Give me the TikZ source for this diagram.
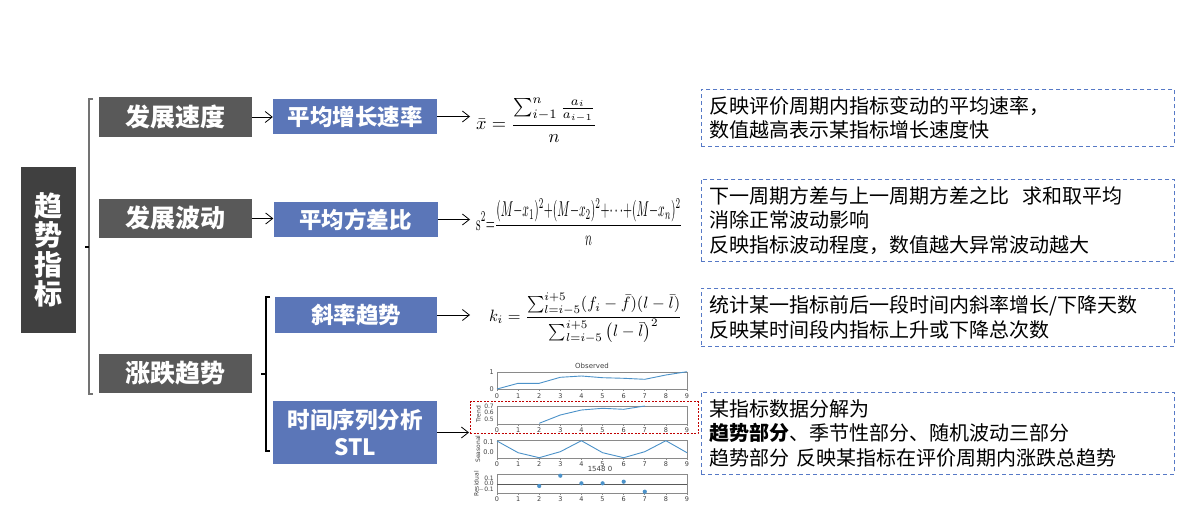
\documentclass[tikz,border=0pt]{standalone}
\usepackage{fontspec}
\usepackage{graphicx}
\usetikzlibrary{arrows.meta}
\newfontfamily\cjk{Noto Sans CJK SC}
\newfontfamily\dvs{DejaVu Sans}
\definecolor{darkbox}{HTML}{404040}
\definecolor{graybox}{HTML}{595959}
\definecolor{bluebox}{HTML}{5B76B8}
\definecolor{dashblue}{HTML}{5679C6}
\definecolor{redd}{HTML}{C00000}
\definecolor{plotline}{HTML}{4C92C9}
\definecolor{axisgray}{HTML}{8A8A8A}
\tikzset{
  darkbx/.style={fill=darkbox, text=white, inner sep=0pt, align=center,
    font=\cjk\bfseries\fontsize{28}{29.5}\selectfont},
  graybx/.style={fill=graybox, text=white, inner sep=0pt, minimum width=153, minimum height=39.5,
    font=\cjk\bfseries\fontsize{25}{30}\selectfont},
  bluebx/.style={fill=bluebox, text=white, inner sep=0pt, minimum width=164, minimum height=35,
    align=center, font=\cjk\bfseries\fontsize{22.5}{27}\selectfont},
  descbx/.style={draw=dashblue, dash pattern=on 4pt off 3pt, line width=0.9pt, text width=457pt,
    inner xsep=8pt, inner ysep=0pt, align=left, anchor=north west,
    font=\cjk\fontsize{20}{24.5}\selectfont},
  arr/.style={-{Straight Barb[length=7pt,width=11pt]}, line width=0.8pt},
  brk/.style={line width=1.1pt},
  axisln/.style={draw=axisgray, line width=0.6pt},
  pl/.style={draw=plotline, line width=0.9pt},
  tick/.style={inner sep=0pt, text=black!75, font=\dvs\fontsize{6.5}{7}\selectfont},
  ytick/.style={tick, anchor=east},
  ylab/.style={inner sep=0pt, rotate=90, text=black!75, font=\dvs\fontsize{6}{7}\selectfont},
  frm/.style={anchor=west, inner sep=0pt}
}
\begin{document}
\begin{tikzpicture}[x=1pt,y=-1pt]
\useasboundingbox[fill=white] (0,0) rectangle (1195,524);

% main boxes
\node[darkbx, minimum width=55, minimum height=166] (qs) at (48.5,250) {趋\\势\\指\\标};
\node[graybx] (fz) at (175.5,117) {发展速度};
\node[graybx] (fb) at (175.5,218.5) {发展波动};
\node[graybx] (zd) at (175.5,373.5) {涨跌趋势};

\node[bluebx] (pj) at (355,116.5) {平均增长速率};
\node[bluebx] (pf) at (355.5,219.5) {平均方差比};
\node[bluebx, minimum height=36, minimum width=162] (xl) at (356,315) {斜率趋势};
\node[bluebx, minimum height=63] (stl) at (355,432.5) {时间序列分析\\STL};

% brackets
\coordinate (b1a) at (93,99);  \coordinate (b1b) at (89,99);
\coordinate (b1c) at (89,394); \coordinate (b1d) at (93,394);
\coordinate (b1m) at (89,247); \coordinate (b1n) at (85,247);
\draw[brk, draw=black!55] (b1a) -- (b1b) -- (b1c) -- (b1d);
\draw[brk] (b1m) -- (b1n);
\coordinate (b2a) at (270,297); \coordinate (b2b) at (266,297);
\coordinate (b2c) at (266,451); \coordinate (b2d) at (270,451);
\coordinate (b2m) at (266,374); \coordinate (b2n) at (261,374);
\draw[brk] (b2a) -- (b2b) -- (b2c) -- (b2d);
\draw[brk] (b2m) -- (b2n);

% arrows grey -> blue
\draw[arr] (fz.east) -- (fz.east -| pj.west);
\draw[arr] (fb.east) -- (fb.east -| pf.west);

% formulas
\node[frm] (f1) at (476,120) {\resizebox{121pt}{!}{$\displaystyle \bar{x}=\frac{\sum_{i-1}^{n}\frac{a_i}{a_{i-1}}}{n}$}};
\node[frm] (f2) at (476,222) {\resizebox{206pt}{32pt}{$\displaystyle \mathrm{s}^2{=}\frac{(M\mathord{-}x_1)^2\mathord{+}(M\mathord{-}x_2)^2\mathord{+}\mathord{\cdots}\mathord{+}(M\mathord{-}x_n)^2}{n}$}};
\node[frm] (f3) at (489,318) {\resizebox{193pt}{!}{$\displaystyle k_i=\frac{\sum\nolimits_{l=i-5}^{i+5}(f_i-\bar{f})(l-\bar{l})}{\sum\nolimits_{l=i-5}^{i+5}\big(l-\bar{l}\big)^2}$}};

\coordinate (e1) at (470,116.5);
\coordinate (e2) at (470,219.5);
\coordinate (e3) at (470,315);
\draw[arr] (pj.east) -- (e1);
\draw[arr] (pf.east) -- (e2);
\draw[arr] (xl.east) -- (e3);

% STL chart
\foreach \t/\b [count=\k] in {372/389, 406/424, 440/458, 474/493}
  \draw[axisln] (497,\t) rectangle (687,\b);
\foreach \b/\yy [count=\k] in {389/396, 424/430.5, 458/464.5, 493/499.5}
  \foreach \i in {0,...,9} {
    \draw[axisln] ({497+21.111*\i},\b) -- ++(0,2);
    \node[tick] (xt\k-\i) at ({497+21.111*\i},\yy) {\i};
  };
\node[tick, font=\dvs\fontsize{7}{8}\selectfont] (tobs) at (592,366) {Observed};
\node[tick, font=\dvs\fontsize{7}{8}\selectfont] (tres) at (600,469) {1548 0};
\node[ytick] (y11) at (494,372) {1};
\node[ytick] (y10) at (494,389) {0};
\node[ytick, font=\dvs\fontsize{6}{7}\selectfont] (y27) at (494,406) {0.7};
\node[ytick, font=\dvs\fontsize{6}{7}\selectfont] (y26) at (494,412.5) {0.6};
\node[ytick, font=\dvs\fontsize{6}{7}\selectfont] (y25) at (494,419) {0.5};
\node[ytick] (y31) at (494,441.7) {0.1};
\node[ytick] (y30) at (494,451.7) {0.0};
\node[ytick, font=\dvs\fontsize{6}{7}\selectfont] (y41) at (494,478) {0.1};
\node[ytick, font=\dvs\fontsize{6}{7}\selectfont] (y40) at (494,483.7) {0.0};
\node[ytick, font=\dvs\fontsize{6}{7}\selectfont] (y4m) at (494,490) {$-$0.1};
\node[ylab] (lt) at (478.5,414) {Trend};
\node[ylab] (ls) at (478,449) {Seasonal};
\node[ylab] (lr) at (476.5,484) {Residual};

\draw[pl] (497,389) -- (518.1,383.3) -- (539.2,383.3) -- (560.3,377.3) -- (581.4,376) -- (602.6,377.7) -- (623.7,378.3) -- (644.8,379.3) -- (665.9,375) -- (687,371.7);
\draw[pl] (539.2,423.3) -- (560.3,415) -- (581.4,410) -- (602.6,408.3) -- (623.7,409.3) -- (644.8,406);
\draw[pl] (497,441) -- (518.1,452.7) -- (539.2,457.7) -- (560.3,451.7) -- (581.4,440.7) -- (602.6,452.7) -- (623.7,457.7) -- (644.8,451.7) -- (665.9,440.7) -- (687,452.7);
\draw[draw=black!65, line width=0.9pt] (497,484) -- (687,484);
\foreach \px/\py in {539.2/486, 560.3/475.7, 581.4/483.3, 602.6/483.3, 623.7/481.7, 644.8/491.7}
  \fill[plotline] (\px,\py) circle (2.1);

% red dashed highlight
\node[draw=redd, dash pattern=on 2pt off 1.5pt, line width=0.9pt, inner sep=0pt,
      minimum width=228, minimum height=32] (rb) at (584,417.5) {};
\coordinate (e4) at (469,432.5);
\draw[arr] (stl.east) -- (e4);

% description boxes
\node[descbx, minimum height=57] (d1) at (701,89) {反映评价周期内指标变动的平均速率，\\数值越高表示某指标增长速度快};
\node[descbx, minimum height=82] (d2) at (701,179) {下一周期方差与上一周期方差之比\hspace{0.65em}求和取平均\\消除正常波动影响\\反映指标波动程度，数值越大异常波动越大};
\node[descbx, minimum height=58] (d3) at (701,288) {统计某一指标前后一段时间内斜率增长/下降天数\\反映某时间段内指标上升或下降总次数};
\node[descbx, minimum height=82] (d4) at (701,392) {某指标数据分解为\\{\bfseries 趋势部分}、季节性部分、随机波动三部分\\趋势部分 反映某指标在评价周期内涨跌总趋势};
\end{tikzpicture}
\end{document}
